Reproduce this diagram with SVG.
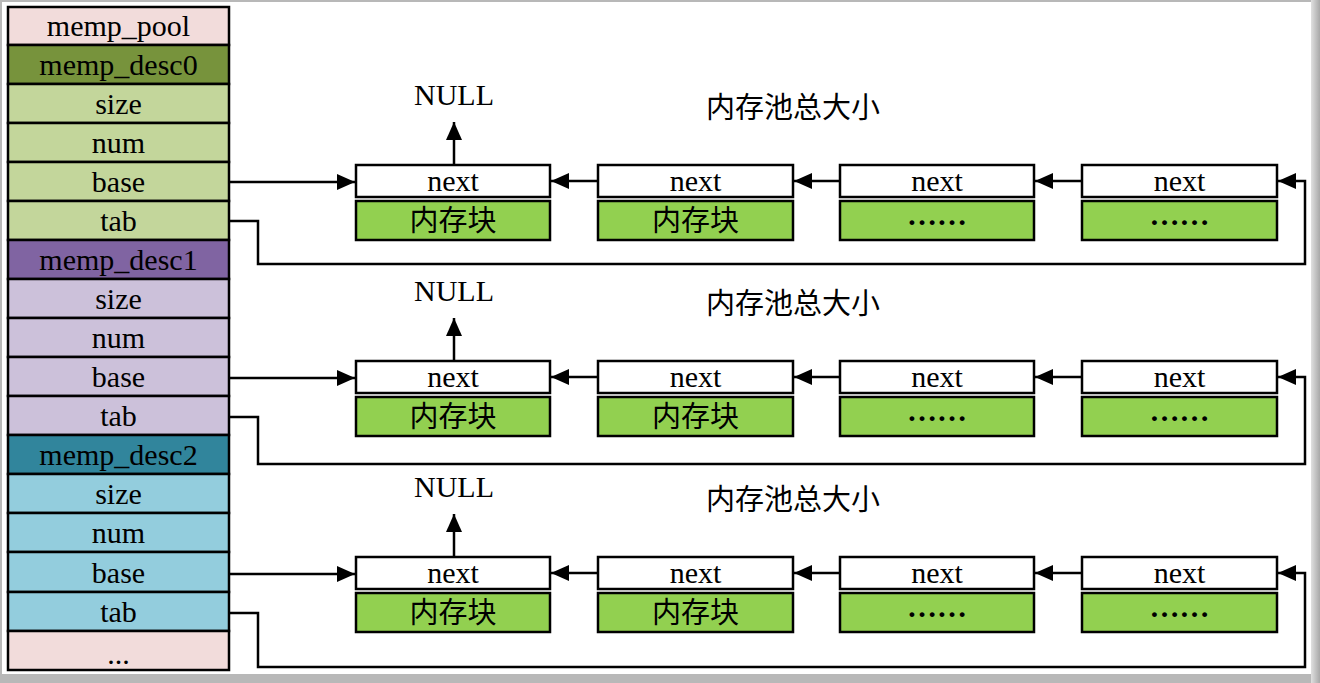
<svg xmlns="http://www.w3.org/2000/svg" width="1320" height="683" viewBox="0 0 1320 683">
<defs>
<style>
.c{stroke:#000;stroke-width:2.5}
.t{font-family:"Liberation Serif","Times New Roman",serif;font-size:30px;text-anchor:middle;fill:#000}
.d{font-family:"Liberation Serif","Times New Roman",serif;font-size:30px;font-weight:bold;text-anchor:middle;fill:#000}
.z{font-family:"Noto Sans CJK SC",sans-serif;font-size:29px;text-anchor:middle;fill:#000}
.w{fill:none;stroke:#000;stroke-width:2.5}
.pk{fill:#f2dcdb}.g0{fill:#77933c}.g1{fill:#c3d69b}.p0{fill:#8064a2}.p1{fill:#ccc1da}.b0{fill:#31859c}.b1{fill:#93cddd}
.nx{fill:#fff}.mb{fill:#92d050}
</style>
<marker id="ah" viewBox="0 0 18 16" refX="18" refY="8" markerWidth="18" markerHeight="16" markerUnits="userSpaceOnUse" orient="auto"><path d="M0,0L18,8L0,16z" fill="#000"/></marker>
<linearGradient id="sr" x1="0" x2="1"><stop offset="0" stop-color="#e0e0e0"/><stop offset="1" stop-color="#a8a8a8"/></linearGradient>
</defs>
<rect x="0" y="0" width="1320" height="683" fill="#b8b8b8"/>
<rect x="1311" y="0" width="9" height="683" fill="url(#sr)"/>
<rect x="2" y="2" width="1309" height="672" fill="#fff"/>

<g id="pool">
<rect class="c pk" x="8" y="7" width="221" height="38"/><text class="t" x="118.5" y="36">memp_pool</text>
</g>
<g id="desc0">
<rect class="c g0" x="8" y="45" width="221" height="39"/><text class="t" x="118.5" y="75">memp_desc0</text>
<rect class="c g1" x="8" y="84" width="221" height="39"/><text class="t" x="118.5" y="114">size</text>
<rect class="c g1" x="8" y="123" width="221" height="39"/><text class="t" x="118.5" y="153">num</text>
<rect class="c g1" x="8" y="162" width="221" height="39"/><text class="t" x="118.5" y="192">base</text>
<rect class="c g1" x="8" y="201" width="221" height="39"/><text class="t" x="118.5" y="231">tab</text>
</g>
<g id="desc1">
<rect class="c p0" x="8" y="240" width="221" height="39"/><text class="t" x="118.5" y="270">memp_desc1</text>
<rect class="c p1" x="8" y="279" width="221" height="39"/><text class="t" x="118.5" y="309">size</text>
<rect class="c p1" x="8" y="318" width="221" height="39"/><text class="t" x="118.5" y="348">num</text>
<rect class="c p1" x="8" y="357" width="221" height="39"/><text class="t" x="118.5" y="387">base</text>
<rect class="c p1" x="8" y="396" width="221" height="39"/><text class="t" x="118.5" y="426">tab</text>
</g>
<g id="desc2">
<rect class="c b0" x="8" y="435" width="221" height="39"/><text class="t" x="118.5" y="465">memp_desc2</text>
<rect class="c b1" x="8" y="474" width="221" height="39"/><text class="t" x="118.5" y="504">size</text>
<rect class="c b1" x="8" y="513" width="221" height="39"/><text class="t" x="118.5" y="543">num</text>
<rect class="c b1" x="8" y="552" width="221" height="40"/><text class="t" x="118.5" y="583">base</text>
<rect class="c b1" x="8" y="592" width="221" height="39"/><text class="t" x="118.5" y="622">tab</text>
</g>
<g id="more">
<rect class="c pk" x="8" y="631" width="221" height="39"/><text class="t" x="118.5" y="664">...</text>
</g>

<g id="chain0">
<text class="t" x="454" y="105">NULL</text>
<text class="z" x="793" y="118">内存池总大小</text>
<rect class="c nx" x="356" y="165" width="194" height="32"/><text class="t" x="453" y="191">next</text>
<rect class="c mb" x="356" y="201" width="194" height="39"/><text class="z" x="453" y="231">内存块</text>
<rect class="c nx" x="598" y="165" width="195" height="32"/><text class="t" x="695.5" y="191">next</text>
<rect class="c mb" x="598" y="201" width="195" height="39"/><text class="z" x="695.5" y="231">内存块</text>
<rect class="c nx" x="840" y="165" width="194" height="32"/><text class="t" x="937" y="191">next</text>
<rect class="c mb" x="840" y="201" width="194" height="39"/><text class="d" x="937" y="225">……</text>
<rect class="c nx" x="1082" y="165" width="195" height="32"/><text class="t" x="1179.5" y="191">next</text>
<rect class="c mb" x="1082" y="201" width="195" height="39"/><text class="d" x="1179.5" y="225">……</text>
</g>
<g id="chain1">
<text class="t" x="454" y="301">NULL</text>
<text class="z" x="793" y="314">内存池总大小</text>
<rect class="c nx" x="356" y="361" width="194" height="32"/><text class="t" x="453" y="387">next</text>
<rect class="c mb" x="356" y="397" width="194" height="39"/><text class="z" x="453" y="427">内存块</text>
<rect class="c nx" x="598" y="361" width="195" height="32"/><text class="t" x="695.5" y="387">next</text>
<rect class="c mb" x="598" y="397" width="195" height="39"/><text class="z" x="695.5" y="427">内存块</text>
<rect class="c nx" x="840" y="361" width="194" height="32"/><text class="t" x="937" y="387">next</text>
<rect class="c mb" x="840" y="397" width="194" height="39"/><text class="d" x="937" y="421">……</text>
<rect class="c nx" x="1082" y="361" width="195" height="32"/><text class="t" x="1179.5" y="387">next</text>
<rect class="c mb" x="1082" y="397" width="195" height="39"/><text class="d" x="1179.5" y="421">……</text>
</g>
<g id="chain2">
<text class="t" x="454" y="497">NULL</text>
<text class="z" x="793" y="510">内存池总大小</text>
<rect class="c nx" x="356" y="557" width="194" height="32"/><text class="t" x="453" y="583">next</text>
<rect class="c mb" x="356" y="593" width="194" height="39"/><text class="z" x="453" y="623">内存块</text>
<rect class="c nx" x="598" y="557" width="195" height="32"/><text class="t" x="695.5" y="583">next</text>
<rect class="c mb" x="598" y="593" width="195" height="39"/><text class="z" x="695.5" y="623">内存块</text>
<rect class="c nx" x="840" y="557" width="194" height="32"/><text class="t" x="937" y="583">next</text>
<rect class="c mb" x="840" y="593" width="194" height="39"/><text class="d" x="937" y="617">……</text>
<rect class="c nx" x="1082" y="557" width="195" height="32"/><text class="t" x="1179.5" y="583">next</text>
<rect class="c mb" x="1082" y="593" width="195" height="39"/><text class="d" x="1179.5" y="617">……</text>
</g>

<g id="connectors">
<path class="w" d="M229,182H355" marker-end="url(#ah)"/>
<path class="w" d="M454,165V122" marker-end="url(#ah)"/>
<path class="w" d="M598,181H551" marker-end="url(#ah)"/>
<path class="w" d="M840,181H794" marker-end="url(#ah)"/>
<path class="w" d="M1082,181H1035" marker-end="url(#ah)"/>
<path class="w" d="M229,221H258V264H1305V181H1278" marker-end="url(#ah)"/>

<path class="w" d="M229,378H355" marker-end="url(#ah)"/>
<path class="w" d="M454,361V318" marker-end="url(#ah)"/>
<path class="w" d="M598,377H551" marker-end="url(#ah)"/>
<path class="w" d="M840,377H794" marker-end="url(#ah)"/>
<path class="w" d="M1082,377H1035" marker-end="url(#ah)"/>
<path class="w" d="M229,417H258V464H1305V377H1278" marker-end="url(#ah)"/>

<path class="w" d="M229,574H355" marker-end="url(#ah)"/>
<path class="w" d="M454,557V514" marker-end="url(#ah)"/>
<path class="w" d="M598,573H551" marker-end="url(#ah)"/>
<path class="w" d="M840,573H794" marker-end="url(#ah)"/>
<path class="w" d="M1082,573H1035" marker-end="url(#ah)"/>
<path class="w" d="M229,613H258V667H1305V573H1278" marker-end="url(#ah)"/>
</g>
</svg>
